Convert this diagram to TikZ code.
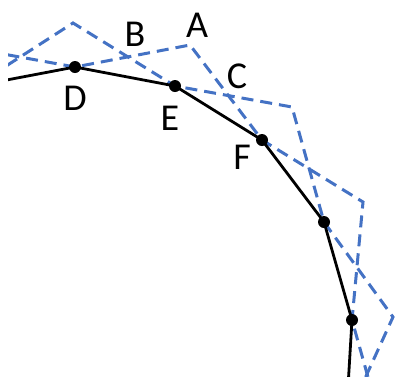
\documentclass[tikz,border=0pt]{standalone}
\usepackage{fontspec}
\setmainfont{Carlito}
\definecolor{dashblue}{HTML}{4472C4}
\tikzset{
  curve/.style={black, line width=2.8pt},
  rot/.style={dashblue, line width=3pt, dash pattern=on 12pt off 7pt},
  vtx/.style={circle, fill=black, inner sep=0pt, minimum size=12pt},
  lbl/.style={font=\fontsize{38}{38}\selectfont, inner sep=0pt}
}
\begin{document}
\begin{tikzpicture}[x=1pt, y=-1pt]
\useasboundingbox (0,0) rectangle (395,376);
% black polygon vertices
\coordinate (K0) at (-25,86);
\coordinate (D) at (75,67);
\coordinate (E) at (175,86);
\coordinate (F) at (262,140);
\coordinate (G) at (324,222);
\coordinate (H) at (352,320);
\coordinate (K7) at (346,420);
% outer vertices of dashed lines
\coordinate (P0) at (-30,48);
\coordinate (A) at (190,45);
\coordinate (P3) at (363,202);
\coordinate (P5) at (380,420);
\coordinate (Q1) at (73,23);
\coordinate (Q3) at (292,107);
\coordinate (Q5) at (393,317);
\begin{scope}
\clip (8,0) rectangle (395,376);
\draw[rot] (P0) -- (D) -- (A) -- (F) -- (P3) -- (H) -- (P5);
\draw[rot] (K0) -- (Q1) -- (E) -- (Q3) -- (G) -- (Q5) -- (K7);
\draw[curve] (K0) -- (D) -- (E) -- (F) -- (G) -- (H) -- (K7);
\end{scope}
\node[vtx] (dD) at (D) {};
\node[vtx] (dE) at (E) {};
\node[vtx] (dF) at (F) {};
\node[vtx] (dG) at (G) {};
\node[vtx] (dH) at (H) {};
\node[lbl] (lA) at (197,25) {A};
\node[lbl] (lB) at (135,34) {B};
\node[lbl] (lC) at (237,76) {C};
\node[lbl] (lD) at (75,98) {D};
\node[lbl] (lE) at (170,118) {E};
\node[lbl] (lF) at (242,157) {F};
\end{tikzpicture}
\end{document}
